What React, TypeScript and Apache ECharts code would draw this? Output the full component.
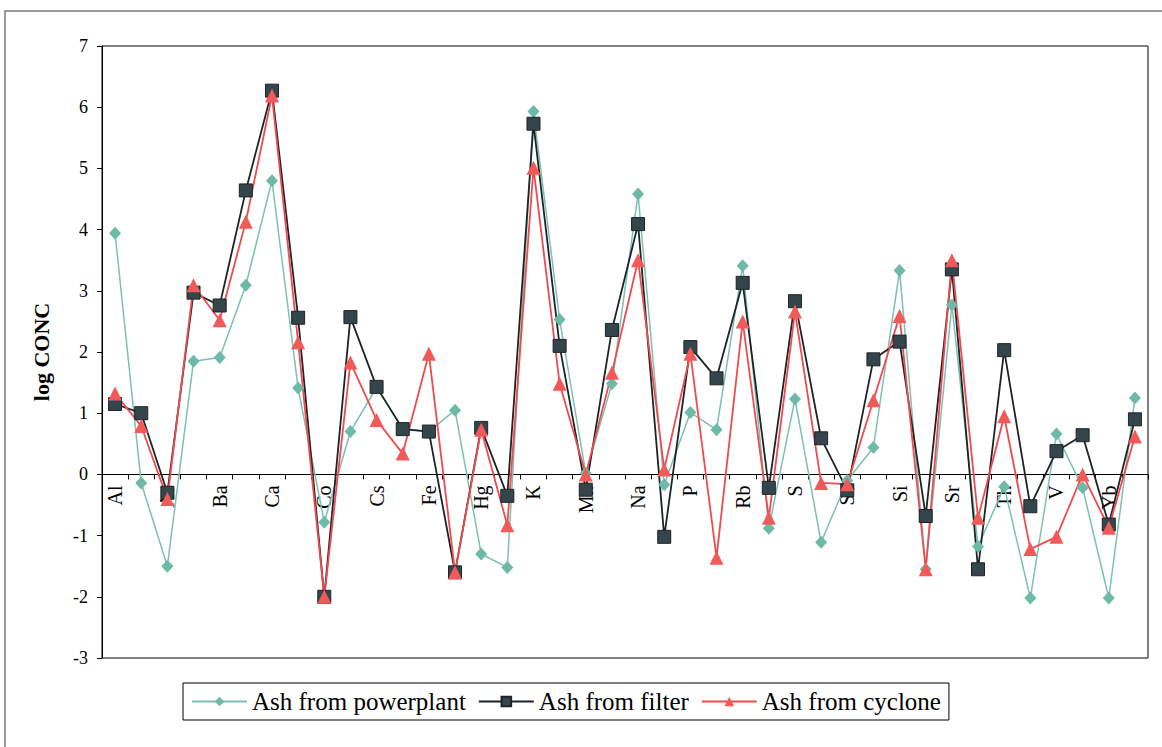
import React, { useEffect, useRef } from "react";
import * as echarts from "echarts";

const categories = [
  "Al", "Au", "As", "B", "Ba", "Br", "Ca", "Ce", "Co", "Cr",
  "Cs", "Eu", "Fe", "Hf", "Hg", "I", "K", "La", "Mn", "Mo",
  "Na", "Nd", "P", "Pb", "Rb", "Rh", "S", "Sb", "Sc", "Se",
  "Si", "Sm", "Sr", "Ta", "Th", "Ti", "V", "W", "Yb", "Zn",
];

const ashPowerplant = [
  3.94, -0.14, -1.5, 1.85, 1.91, 3.09, 4.8, 1.41, -0.78, 0.7,
  1.42, 0.75, 0.7, 1.05, -1.3, -1.52, 5.93, 2.53, 0.02, 1.48,
  4.58, -0.17, 1.01, 0.73, 3.41, -0.88, 1.23, -1.11, -0.1, 0.44,
  3.33, -1.55, 2.77, -1.18, -0.2, -2.02, 0.66, -0.22, -2.02, 1.25,
];

const ashFilter = [
  1.15, 1.0, -0.3, 2.97, 2.76, 4.64, 6.27, 2.56, -2.0, 2.57,
  1.43, 0.74, 0.7, -1.6, 0.76, -0.35, 5.73, 2.1, -0.25, 2.36,
  4.09, -1.02, 2.08, 1.57, 3.13, -0.22, 2.83, 0.59, -0.26, 1.88,
  2.17, -0.68, 3.35, -1.55, 2.03, -0.52, 0.38, 0.64, -0.82, 0.9,
];

const ashCyclone = [
  1.32, 0.79, -0.4, 3.09, 2.52, 4.13, 6.19, 2.16, -2.0, 1.83,
  0.89, 0.34, 1.97, -1.6, 0.73, -0.83, 5.01, 1.48, 0.0, 1.66,
  3.5, 0.08, 1.97, -1.36, 2.5, -0.71, 2.66, -0.14, -0.16, 1.21,
  2.59, -1.55, 3.5, -0.71, 0.95, -1.22, -1.02, 0.0, -0.87, 0.62,
];

const seriesNames = ["Ash from powerplant", "Ash from filter", "Ash from cyclone"];

const Y_MIN = -3;
const Y_MAX = 7;

const FONT = "Liberation Serif";

const GRID_TOP = 46;
const GRID_BOTTOM = 89;
const CHART_H = 747;

export default function App() {
  const ref = useRef<HTMLDivElement>(null);

  useEffect(() => {
    if (!ref.current) return;
    const chart = echarts.init(ref.current, undefined, { renderer: "svg" });
    const gridH = CHART_H - GRID_TOP - GRID_BOTTOM;
    // move the category axis from the grid bottom up to the y = 0 line
    const zeroOffset = -gridH * ((0 - Y_MIN) / (Y_MAX - Y_MIN));
    chart.setOption({
      animation: false,
      backgroundColor: "#ffffff",
      graphic: [
        {
          type: "rect",
          shape: { x: 5, y: 11, width: 1175, height: 760 },
          style: { fill: "none", stroke: "#777", lineWidth: 1.5 },
          silent: true,
        },
      ],
      legend: {
        left: 183,
        top: 683,
        orient: "horizontal",
        borderColor: "#000",
        borderWidth: 1,
        padding: [6, 8, 6, 8],
        itemGap: 12,
        itemWidth: 55,
        itemHeight: 12,
        textStyle: { fontFamily: FONT, fontSize: 25, color: "#000" },
        data: seriesNames,
      },
      grid: {
        left: 102,
        right: 14,
        top: GRID_TOP,
        bottom: GRID_BOTTOM,
        show: true,
        borderColor: "#000",
        borderWidth: 1,
        backgroundColor: "transparent",
      },
      xAxis: {
        type: "category",
        data: categories,
        boundaryGap: true,
        position: "bottom",
        offset: zeroOffset,
        axisLine: { onZero: false, lineStyle: { color: "#000", width: 1 } },
        axisTick: { show: true, interval: 0, length: 5, lineStyle: { color: "#000" } },
        axisLabel: {
          interval: 1,
          rotate: 90,
          fontFamily: FONT,
          fontSize: 20,
          color: "#000",
          margin: 11,
        },
        splitLine: { show: false },
      },
      yAxis: {
        type: "value",
        min: Y_MIN,
        max: Y_MAX,
        interval: 1,
        name: "log CONC",
        nameLocation: "middle",
        nameGap: 50,
        nameTextStyle: { fontFamily: FONT, fontSize: 22, fontWeight: "bold", color: "#000" },
        axisLine: { show: true, lineStyle: { color: "#000", width: 1 } },
        axisTick: { show: true, length: 5, lineStyle: { color: "#000" } },
        axisLabel: { fontFamily: FONT, fontSize: 18, color: "#000", margin: 14 },
        splitLine: { show: false },
      },
      series: [
        {
          name: seriesNames[0],
          type: "line",
          data: ashPowerplant,
          symbol: "diamond",
          symbolSize: [12, 13],
          showAllSymbol: true,
          lineStyle: { color: "#7cc0b3", width: 1.5 },
          itemStyle: { color: "#6dbaa9", borderWidth: 0 },
        },
        {
          name: seriesNames[1],
          type: "line",
          data: ashFilter,
          symbol: "rect",
          symbolSize: 13,
          showAllSymbol: true,
          lineStyle: { color: "#1d2326", width: 1.8 },
          itemStyle: { color: "#34464c", borderColor: "#1d2326", borderWidth: 1 },
        },
        {
          name: seriesNames[2],
          type: "line",
          data: ashCyclone,
          symbol: "triangle",
          symbolSize: 14,
          showAllSymbol: true,
          lineStyle: { color: "#ef4b4f", width: 1.8 },
          itemStyle: { color: "#f25a5a", borderWidth: 0 },
        },
      ],
    });
    return () => chart.dispose();
  }, []);

  return (
    <div
      ref={ref}
      style={{ position: "absolute", left: 0, top: 0, width: 1162, height: 747, background: "#fff" }}
    />
  );
}
